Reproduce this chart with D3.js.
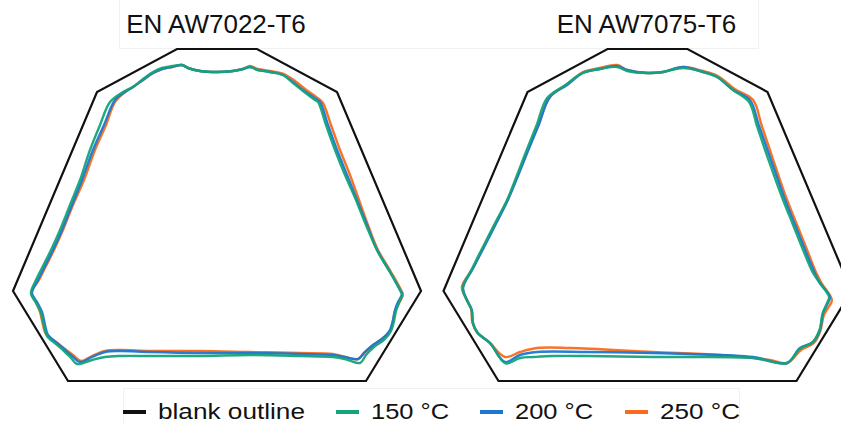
<!DOCTYPE html>
<html>
<head>
<meta charset="utf-8">
<script src="https://cdn.jsdelivr.net/npm/d3@7/dist/d3.min.js"></script>
<style>
  html, body { margin: 0; padding: 0; background: #fff; }
  svg { display: block; font-family: "Liberation Sans", Arial, sans-serif; }
</style>
</head>
<body>
<svg id="chart" width="841" height="423"></svg>
<script>
// Cross-section contours of formed profiles (mm), blank outline vs. forming temperature.
const alloys = ["EN AW7022-T6", "EN AW7075-T6"];
const seriesNames = ["blank outline", "150 °C", "200 °C", "250 °C"];

// Hexagonal blank outline (x, y in mm)
const blankOutline = [
  [-10, 83], [10, 83], [30, 72.25], [51, 22.5], [37.25, 0], [-37.25, 0], [-51, 22.5], [-30, 72.25]
];

// EN AW7022-T6
const aw7022_150 = [
  [-26.75, 69.75], [-23.5, 72.25], [-21, 73.5], [-18.5, 75.5], [-16, 77.25], [-13.75, 78.25], [-11.25, 78.75], [-8.75, 79],
  [-7.25, 78.25], [-4.25, 77.5], [0, 77.25], [4, 77.5], [6.5, 78], [8.25, 78.5], [10.25, 77.75], [13.25, 77.25],
  [16.5, 76.5], [19, 74.5], [21.5, 72.5], [24.5, 70.25], [25.25, 69.75],
  [27.25, 64], [29.5, 57.75], [32, 51.5], [34.75, 45.25], [37.25, 39], [40, 32.75], [43.25, 27.25], [45.75, 22.75], [46.25, 21.5],
  [45.5, 19.5], [44.75, 17.5], [44.25, 15], [43.5, 12.5], [41.75, 10.25], [39.25, 8.5], [37.25, 6.5], [35.75, 4.5],
  [32, 5.5], [29, 6], [20.75, 6.25], [8.25, 6.5], [-4.25, 6.25], [-16.75, 6.25], [-24.25, 6.25], [-28, 6], [-31.25, 5.25], [-35, 4.25],
  [-36.5, 5.75], [-38.25, 7.5], [-40.25, 9.25], [-42.5, 11.25], [-43.25, 13.75], [-44, 17], [-45.25, 19.5], [-46.5, 22],
  [-45.25, 25.25], [-43.5, 28.75], [-41.5, 32.75], [-39.25, 37.75], [-36.75, 44], [-34.25, 50.25], [-31.75, 57.75], [-29.25, 64]
];
const aw7022_200 = [
  [-25.5, 70.25], [-23, 72.25], [-21, 73.5], [-18.5, 75.25], [-16, 77], [-13.75, 78], [-11.25, 78.5], [-8.75, 79],
  [-7.25, 78.25], [-4.25, 77.5], [0, 77.25], [4, 77.5], [6.5, 78], [8.25, 78.5], [10.25, 77.75], [13.25, 77.25],
  [16.5, 76.5], [19, 74.75], [21.5, 72.75], [24.75, 70.5], [25.75, 69.75],
  [27.75, 64], [30, 57.75], [32.5, 51.5], [35, 45.25], [37.5, 39], [40, 32.75], [43.25, 27.25], [45.75, 22.75], [46.25, 21.75],
  [45.25, 19.75], [44.5, 17.75], [44, 15.25], [43.25, 12.75], [41.5, 10.75], [39, 9], [37, 7.25], [35.25, 5.5],
  [32, 6], [29, 6.5], [20.75, 6.75], [8.25, 7], [-4.25, 7], [-16.75, 7.25], [-24.25, 7.5], [-28, 7.25], [-31.25, 6], [-34.25, 4.75],
  [-36.25, 6.25], [-38, 7.75], [-40, 9.5], [-42.25, 11.5], [-43, 14], [-43.75, 17.25], [-45, 19.75], [-46.25, 22],
  [-44.75, 25.25], [-43, 28.75], [-41, 32.75], [-38.75, 37.75], [-36.25, 44], [-33.75, 50.25], [-31, 57.75], [-28.25, 64]
];
const aw7022_250 = [
  [-25.5, 69.75], [-23, 72.25], [-21, 73.5], [-18.5, 75.25], [-16, 77], [-13.75, 78], [-11.25, 78.5], [-8.75, 79],
  [-7.25, 78.25], [-4.25, 77.5], [0, 77.25], [4, 77.5], [6.5, 78], [8.25, 78.75], [10.25, 78], [13.25, 77.5],
  [16.75, 76.75], [19.5, 75], [22, 73], [25.5, 70.5], [26.5, 69.5],
  [28.5, 64], [30.75, 57.75], [33.25, 51.5], [35.5, 45.25], [37.75, 39], [40.25, 32.75], [43.5, 27.25], [46, 22.75], [46.5, 21.5],
  [45.5, 19.5], [44.5, 17.5], [44, 15], [43.25, 12.5], [41.25, 10.5], [38.75, 8.75], [36.75, 7], [35.25, 5.5],
  [32, 6], [29, 6.75], [20.75, 7], [8.25, 7.25], [-4.25, 7.5], [-16.75, 7.5], [-24.25, 7.75], [-28, 7.5], [-31.25, 6.25], [-34, 5],
  [-36, 6.5], [-38, 8], [-40.25, 9.75], [-42.75, 11.75], [-43.5, 14], [-44.25, 17.25], [-45.25, 19.75], [-46.5, 22],
  [-44.5, 25.25], [-42.75, 28.75], [-40.75, 32.75], [-38.5, 37.75], [-36, 44], [-33.25, 50.25], [-30.5, 57.75], [-27.75, 64]
];

// EN AW7075-T6
const aw7075_150 = [
  [-25.1, 70.75], [-20.5, 74], [-16.3, 77], [-12, 78], [-7.6, 78.5], [-5.1, 77.5], [0, 77], [3.9, 77.25], [8.9, 78.25],
  [13.9, 77.25], [17.4, 76], [21.4, 72.75], [25.4, 69.75],
  [27.3, 64], [29.4, 57.75], [31.6, 51.5], [33.9, 45.25], [36.4, 39], [38.9, 32.75], [41.4, 27], [43.1, 24.5], [45.4, 21],
  [44.9, 19.5], [43.8, 17], [43, 12.75], [41.3, 9.75], [38, 8], [34.9, 4.5],
  [26.4, 5.75], [9.9, 6], [1.4, 6], [-15.1, 6.25], [-23.6, 6.25], [-28.5, 6], [-31.9, 5.75], [-35.5, 4.4],
  [-39.4, 9.5], [-42.5, 12], [-43.7, 14.5], [-44, 17.75], [-45.2, 20.25], [-46.2, 23.25],
  [-43.9, 28], [-40.9, 34], [-38.1, 39.5], [-35.1, 45.25], [-32.6, 51.5], [-30.2, 57.75], [-27.7, 64]
];
const aw7075_200 = [
  [-24.4, 71], [-20.1, 74], [-16.1, 77], [-11.9, 78], [-7.6, 78.75], [-5.1, 77.75], [0, 77], [3.9, 77.25], [8.9, 78.5],
  [13.9, 77.25], [17.4, 76], [21.4, 72.75], [25.6, 70.25],
  [27.8, 64], [30, 57.75], [32.2, 51.5], [34.4, 45.25], [36.9, 39], [39.4, 32.75], [41.8, 27], [43.1, 24.5], [45.6, 21],
  [45.1, 19.5], [43.9, 17], [43.1, 12.75], [41.4, 9.75], [38.1, 8.25], [34.9, 4.5],
  [26.4, 6], [9.9, 6.75], [-15.1, 7.25], [-27.6, 7.25], [-31.9, 6.5], [-35.6, 4.75],
  [-39.4, 9.5], [-42.4, 12], [-43.6, 14.5], [-43.9, 17.75], [-45.1, 20.25], [-46.1, 23.25],
  [-43.7, 28], [-40.6, 34], [-37.8, 39.5], [-34.9, 45.25], [-32.3, 51.5], [-29.8, 57.75], [-27.2, 64]
];
const aw7075_250 = [
  [-24.4, 71], [-20.1, 74.25], [-16.1, 77.25], [-11.9, 78.25], [-7.6, 79], [-5.1, 77.75], [0, 77], [3.9, 77.25], [8.9, 78.5],
  [13.9, 77.5], [17.6, 76.25], [21.8, 73], [26.4, 70.25],
  [28.5, 64], [30.6, 57.75], [32.7, 51.5], [34.9, 45.25], [37.4, 39], [39.9, 32.75], [42.2, 27], [43.5, 24.5], [46.1, 20.25],
  [45.3, 18.5], [44.1, 16.5], [43.2, 12.5], [41.6, 9.5], [38.4, 7.75], [34.9, 4.5],
  [30.6, 5.25], [18.1, 6.5], [1.4, 7.25], [-19.4, 8.25], [-27.6, 8.25], [-31.9, 7.25], [-35.6, 6],
  [-39.6, 9.75], [-42.7, 12.25], [-43.8, 14.75], [-44.1, 18], [-45.3, 20.5], [-46.4, 23.5],
  [-43.8, 28], [-40.7, 34], [-37.9, 39.5], [-35, 45.25], [-32.4, 51.5], [-29.9, 57.75], [-27.3, 64]
];

const profiles = [
  [aw7022_150, aw7022_200, aw7022_250],
  [aw7075_150, aw7075_200, aw7075_250]
];

const colors = ["#111111", "#14a37a", "#1c76d2", "#f96b1a"];

// ---- layout ----
const svg = d3.select("#chart");
const panelCenters = [217, 647.5];
const halfWidth = 204;
const yScale = d3.scaleLinear().domain([0, 83]).range([381, 49]);

// faint frames around the title row and the legend
svg.append("rect").attr("x", 119.5).attr("y", -1).attr("width", 639).attr("height", 49.5)
  .attr("fill", "none").attr("stroke", "#f1f1f1").attr("stroke-width", 1);
svg.append("rect").attr("x", 123.5).attr("y", 388.5).attr("width", 616).attr("height", 40)
  .attr("fill", "none").attr("stroke", "#f1f1f1").attr("stroke-width", 1);

alloys.forEach((alloy, i) => {
  const cx = panelCenters[i];
  const xScale = d3.scaleLinear().domain([-51, 51]).range([cx - halfWidth, cx + halfWidth]);
  const g = svg.append("g");

  const closedLine = d3.line()
    .x(d => xScale(d[0])).y(d => yScale(d[1]))
    .curve(d3.curveLinearClosed);
  const smoothLine = d3.line()
    .x(d => xScale(d[0])).y(d => yScale(d[1]))
    .curve(d3.curveCatmullRomClosed.alpha(0.5));

  g.append("path")
    .attr("d", closedLine(blankOutline))
    .attr("fill", "none")
    .attr("stroke", colors[0])
    .attr("stroke-width", 2.2)
    .attr("stroke-linejoin", "miter");

  // draw 250, 200, then 150 °C on top
  [2, 1, 0].forEach(k => {
    g.append("path")
      .attr("d", smoothLine(profiles[i][k]))
      .attr("fill", "none")
      .attr("stroke", colors[k + 1])
      .attr("stroke-width", 2.4)
      .attr("stroke-linejoin", "round")
      .attr("stroke-opacity", 0.95);
  });

  svg.append("text")
    .attr("x", cx - 1)
    .attr("y", 33)
    .attr("text-anchor", "middle")
    .attr("font-size", 26)
    .attr("fill", "#111")
    .text(alloy);
});

// ---- legend ----
const legendItems = [
  { key: 0, x: 123, textLen: 147 },
  { key: 1, x: 336, textLen: 78 },
  { key: 2, x: 480, textLen: 78 },
  { key: 3, x: 625, textLen: 80 }
];
const legend = svg.append("g");
legendItems.forEach(item => {
  legend.append("line")
    .attr("x1", item.x).attr("x2", item.x + 23)
    .attr("y1", 412).attr("y2", 412)
    .attr("stroke", colors[item.key])
    .attr("stroke-width", 4);
  legend.append("text")
    .attr("x", item.x + 35)
    .attr("y", 419)
    .attr("font-size", 22)
    .attr("fill", "#111")
    .attr("textLength", item.textLen)
    .attr("lengthAdjust", "spacingAndGlyphs")
    .text(seriesNames[item.key]);
});
</script>
</body>
</html>
